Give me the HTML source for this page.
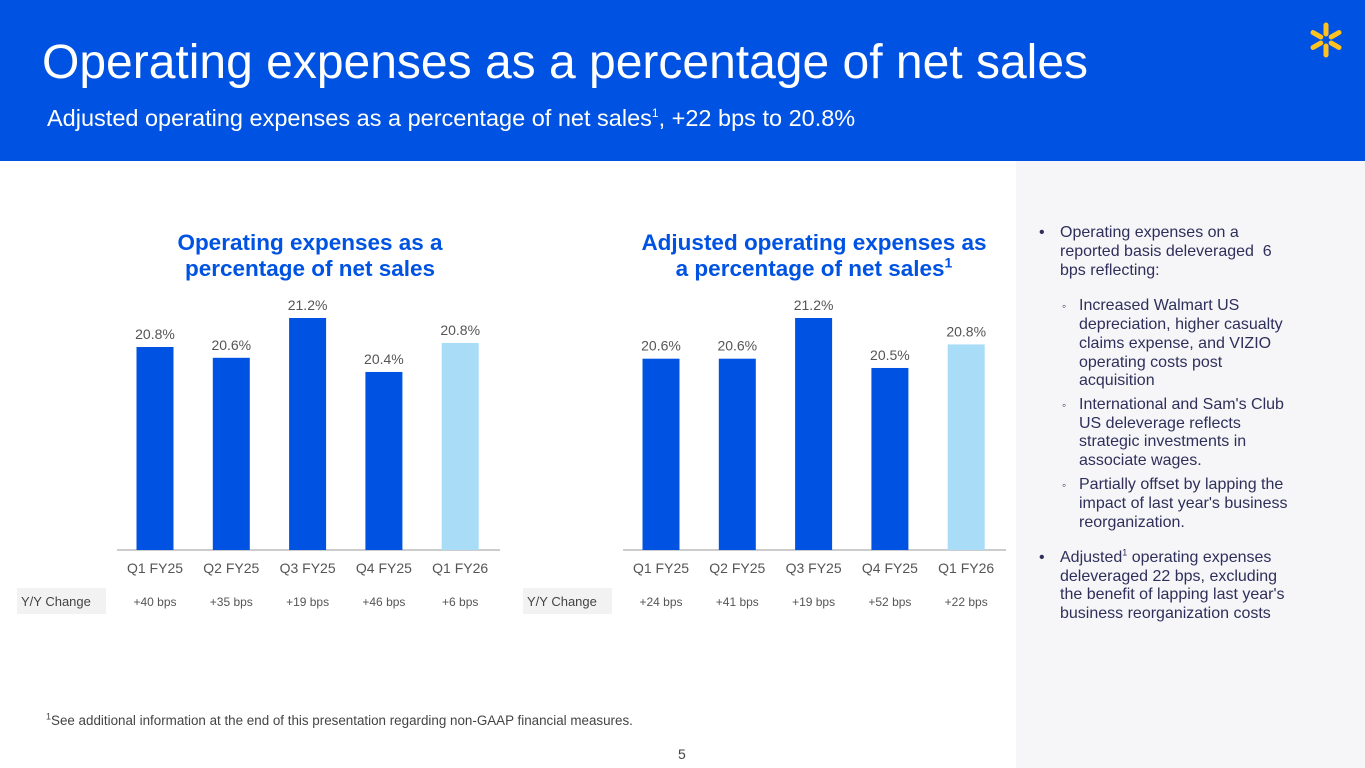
<!DOCTYPE html>
<html><head><meta charset="utf-8">
<style>
body{margin:0;width:1365px;height:768px;position:relative;overflow:hidden;background:#fff;font-family:"Liberation Sans",sans-serif;}
.abs{position:absolute;white-space:nowrap;}
sup{line-height:0;vertical-align:super;}
#header{position:absolute;left:0;top:0;width:1365px;height:161px;background:#0053e2;}
#side{position:absolute;left:1016px;top:161px;width:349px;height:607px;background:#f6f6f8;}
.ln{position:absolute;font-size:16px;color:#2e2f5a;white-space:nowrap;line-height:18px;}
.ct{position:absolute;font-size:22.5px;font-weight:bold;color:#0053e2;text-align:center;line-height:26px;}
</style></head><body>
<div id="header"></div>
<div class="abs" style="left:42px;top:35px;font-size:48px;color:#fff;">Operating expenses as a percentage of net sales</div>
<div class="abs" style="left:47px;top:105px;font-size:23.5px;color:#fff;">Adjusted operating expenses as a percentage of net sales<sup style="font-size:12px">1</sup>, +22 bps to 20.8%</div>
<svg class="abs" style="left:1304px;top:18px" width="44" height="44" viewBox="-22 -22 44 44">
<g stroke="#ffc220" stroke-width="5" stroke-linecap="round">
<line x1="0" y1="-6" x2="0" y2="-15"/><line x1="0" y1="-6" x2="0" y2="-15" transform="rotate(60)"/><line x1="0" y1="-6" x2="0" y2="-15" transform="rotate(120)"/><line x1="0" y1="-6" x2="0" y2="-15" transform="rotate(180)"/><line x1="0" y1="-6" x2="0" y2="-15" transform="rotate(240)"/><line x1="0" y1="-6" x2="0" y2="-15" transform="rotate(300)"/>
</g></svg>
<div id="side"></div>
<div>
<div class="ln" style="left:1039px;top:224px">•</div>
<div class="ln" style="left:1060px;top:224px">Operating expenses on a</div>
<div class="ln" style="left:1060px;top:243px">reported basis deleveraged&nbsp; 6</div>
<div class="ln" style="left:1060px;top:262px">bps reflecting:</div>
<div class="ln" style="left:1062px;top:297px;font-size:12px">◦</div>
<div class="ln" style="left:1079px;top:297px">Increased Walmart US</div>
<div class="ln" style="left:1079px;top:316px">depreciation, higher casualty</div>
<div class="ln" style="left:1079px;top:335px">claims expense, and VIZIO</div>
<div class="ln" style="left:1079px;top:354px">operating costs post</div>
<div class="ln" style="left:1079px;top:372px">acquisition</div>
<div class="ln" style="left:1062px;top:396px;font-size:12px">◦</div>
<div class="ln" style="left:1079px;top:396px">International and Sam's Club</div>
<div class="ln" style="left:1079px;top:415px">US deleverage reflects</div>
<div class="ln" style="left:1079px;top:433px">strategic investments in</div>
<div class="ln" style="left:1079px;top:452px">associate wages.</div>
<div class="ln" style="left:1062px;top:476px;font-size:12px">◦</div>
<div class="ln" style="left:1079px;top:476px">Partially offset by lapping the</div>
<div class="ln" style="left:1079px;top:495px">impact of last year's business</div>
<div class="ln" style="left:1079px;top:514px">reorganization.</div>
<div class="ln" style="left:1039px;top:549px">•</div>
<div class="ln" style="left:1060px;top:549px">Adjusted<sup style="font-size:9px">1</sup> operating expenses</div>
<div class="ln" style="left:1060px;top:568px">deleveraged 22 bps, excluding</div>
<div class="ln" style="left:1060px;top:586px">the benefit of lapping last year's</div>
<div class="ln" style="left:1060px;top:605px">business reorganization costs</div>
</div>
<div class="ct" style="left:110px;top:230px;width:400px;">Operating expenses as a<br>percentage of net sales</div>
<div class="ct" style="left:604px;top:230px;width:420px;">Adjusted operating expenses as<br>a percentage of net sales<sup style="font-size:14px">1</sup></div>
<div class="abs" style="left:46px;top:713px;font-size:13.4px;color:#444;"><sup style="font-size:9px">1</sup>See additional information at the end of this presentation regarding non-GAAP financial measures.</div>
<div class="abs" style="left:678px;top:746px;font-size:14px;color:#444;">5</div>
<svg id="charts" class="abs" style="left:0;top:0" width="1016" height="768"></svg>
<script>
const categories=["Q1 FY25","Q2 FY25","Q3 FY25","Q4 FY25","Q1 FY26"];
const reportedValues=[20.77,20.61,21.2,20.4,20.83];
const reportedLabels=["20.8%","20.6%","21.2%","20.4%","20.8%"];
const reportedChange=["+40 bps","+35 bps","+19 bps","+46 bps","+6 bps"];
const adjustedValues=[20.63,20.63,21.2,20.5,20.83];
const adjustedLabels=["20.6%","20.6%","21.2%","20.5%","20.8%"];
const adjustedChange=["+24 bps","+41 bps","+19 bps","+52 bps","+22 bps"];
const NS="http://www.w3.org/2000/svg";
const svg=document.getElementById('charts');
function mk(tag,attrs,parent){const e=document.createElementNS(NS,tag);for(const k in attrs)e.setAttribute(k,attrs[k]);(parent||svg).appendChild(e);return e;}
function drawChart(prefix,left,vals,labels,changes,vmin,vmax,topY){
  const base=550,step=76.3,bw=37;
  const y=v=>base-(v-vmin)/(vmax-vmin)*(base-topY);
  const xc=i=>left+38+i*step;
  const g=mk('g',{});
  
  
  const ax=mk('line',{x1:left,x2:left+383,y1:base,y2:base,stroke:'#bbb','stroke-width':1.5},g);
  
  
  const lb=mk('rect',{x:left-100,y:588,width:89,height:26,fill:'#f2f2f2'},g);
  
  
  const lt=mk('text',{x:left-96,y:606,'font-size':13,fill:'#444'},g);lt.textContent='Y/Y Change';
  
  
  vals.forEach((v,i)=>{
    const r=mk('rect',{x:xc(i)-bw/2,y:y(v),width:bw,height:base-y(v),fill:i==4?'#a9ddf7':'#0053e2'},g);
    
    
    const t=mk('text',{x:xc(i),y:y(v)-8,'text-anchor':'middle','font-size':14,fill:'#555'},g);t.textContent=labels[i];
    
    
    const c=mk('text',{x:xc(i),y:573,'text-anchor':'middle','font-size':14,fill:'#555'},g);c.textContent=categories[i];
    
    
    const d=mk('text',{x:xc(i),y:606,'text-anchor':'middle','font-size':12,fill:'#555'},g);d.textContent=changes[i];
    
    
  });
}
drawChart('reported',117,reportedValues,reportedLabels,reportedChange,17.76,21.2,318);
drawChart('adjusted',623,adjustedValues,adjustedLabels,adjustedChange,17.95,21.2,318);
</script>
</body></html>
